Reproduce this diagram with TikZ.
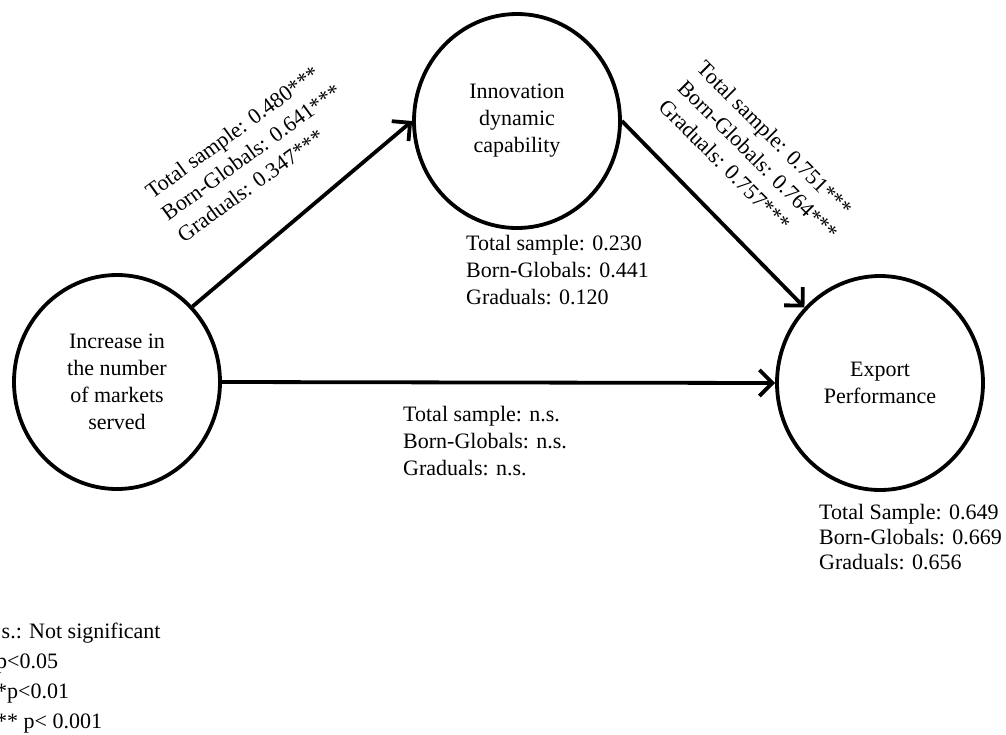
\documentclass[tikz,border=0pt]{standalone}
\usepackage{fontspec}
\setmainfont{Liberation Serif}
\usetikzlibrary{shapes.geometric,arrows.meta}
\begin{document}
\begin{tikzpicture}[x=1pt,y=-1pt,
  every node/.style={font=\fontsize{22pt}{27pt}\selectfont},
  var/.style={ellipse,draw,line width=3.8pt,minimum width=206pt,minimum height=214pt,inner sep=0pt,align=center},
  lbl/.style={align=left,inner sep=0pt},
  conn/.style={line width=3.8pt,-{Straight Barb[length=13pt,width=26pt,line width=3.8pt]}}
]
\useasboundingbox (0,0) rectangle (1006,734);
\clip (0,0) rectangle (1006,734);
\node[var] (L) at (117,382) {Increase in\\the number\\of markets\\served};
\node[var] (T) at (517,121) {Innovation\\dynamic\\capability};
\node[var] (R) at (880,383) {Export\\Performance};
\draw[conn] (L.45) -- (T.west);
\draw[conn] (T.east) -- (R.135);
\draw[conn] (L.east) -- (R.west);
\node[lbl,rotate=36] (a1) at (251,152) {Total sample: 0.480***\\Born-Globals: 0.641***\\Graduals: 0.347***};
\node[lbl,rotate=-45] (a2) at (758,160) {Total sample: 0.751***\\Born-Globals: 0.764***\\Graduals: 0.757***};
\node[lbl,anchor=west] (r2) at (466,270) {Total sample: 0.230\\Born-Globals: 0.441\\Graduals: 0.120};
\node[lbl,anchor=west] (a3) at (403,441) {Total sample: n.s.\\Born-Globals: n.s.\\Graduals: n.s.};
\node[lbl,anchor=west,font=\fontsize{22pt}{25pt}\selectfont] (r3) at (819,537) {Total Sample: 0.649\\Born-Globals: 0.669\\Graduals: 0.656};
\node[lbl,anchor=west,font=\fontsize{22pt}{30pt}\selectfont] (leg) at (-15,678) {n.s.: Not significant\\{*}p<0.05\\{**}p<0.01\\{***} p< 0.001};
\end{tikzpicture}
\end{document}
